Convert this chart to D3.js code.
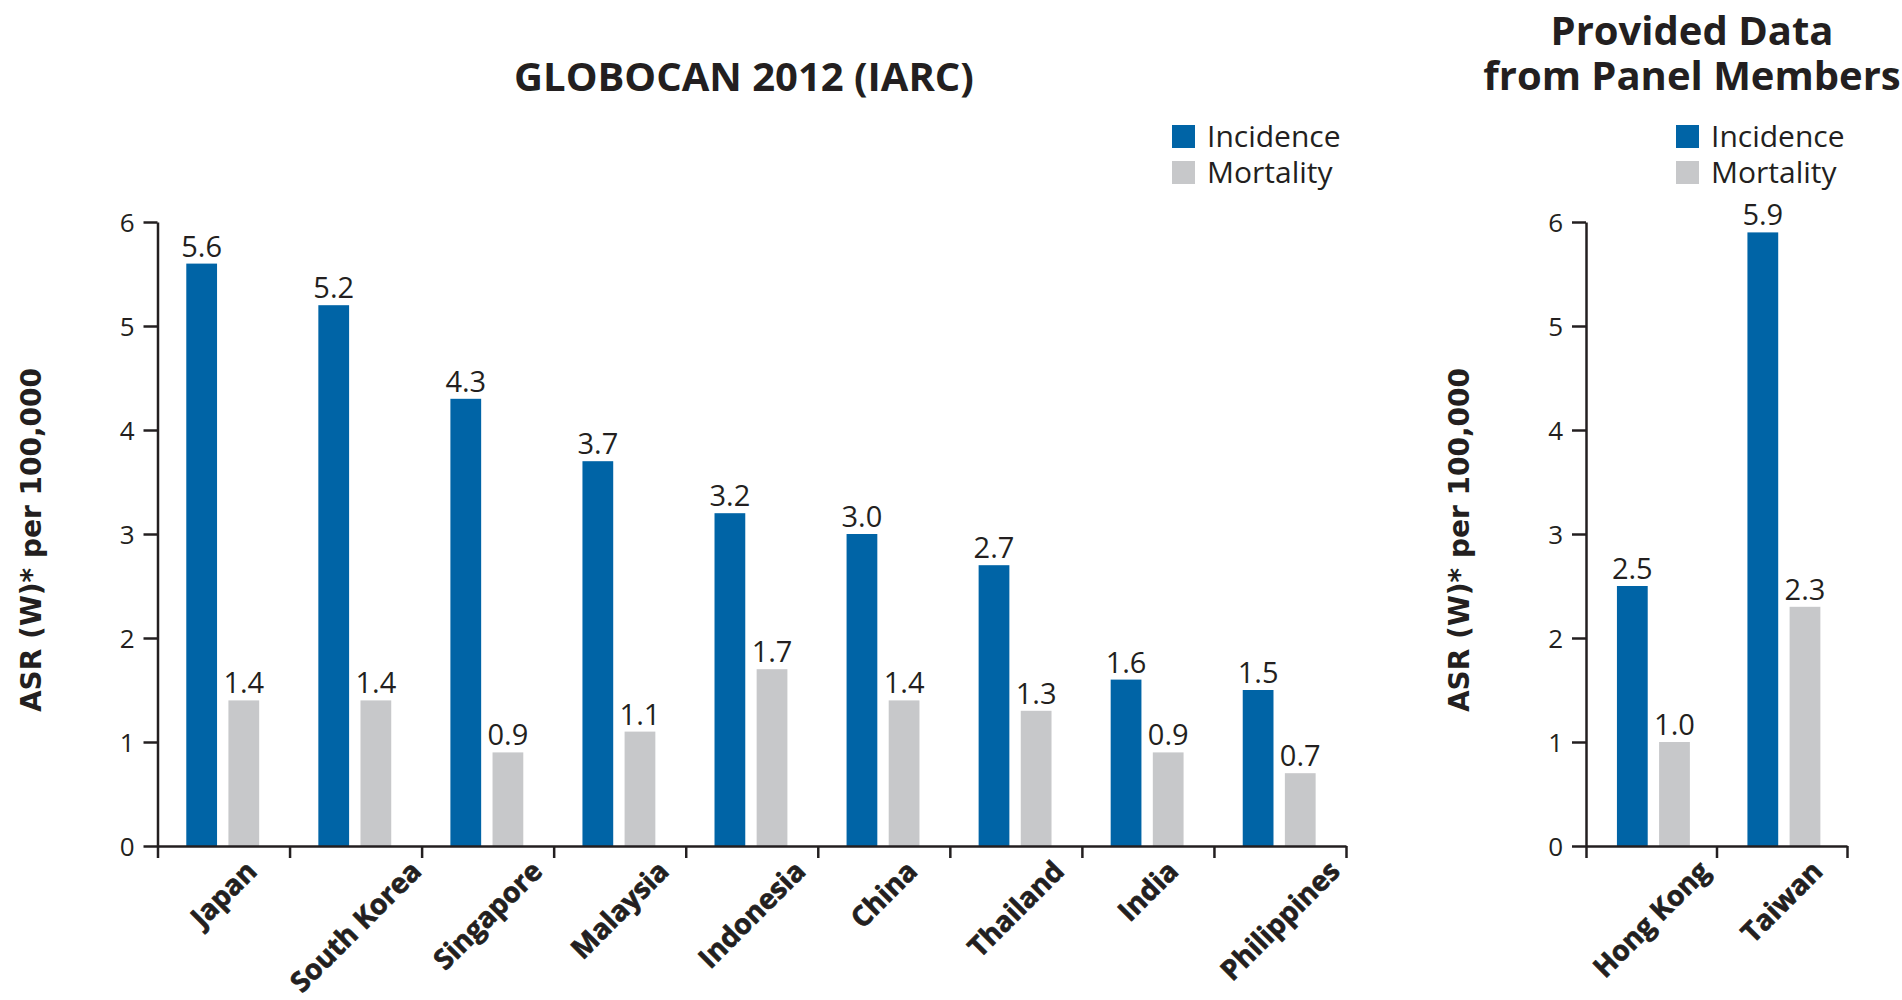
<!DOCTYPE html>
<html>
<head>
<meta charset="utf-8">
<script src="https://cdn.jsdelivr.net/npm/d3@7"></script>
<style>
  body { margin: 0; background: #fff; }
  text { fill: #231f20; }
</style>
</head>
<body>
<div id="chart"></div>
<script>
// values
const globocanCountries = ["Japan", "South Korea", "Singapore", "Malaysia", "Indonesia", "China", "Thailand", "India", "Philippines"];
const globocanIncidence = [5.6, 5.2, 4.3, 3.7, 3.2, 3.0, 2.7, 1.6, 1.5];
const globocanMortality = [1.4, 1.4, 0.9, 1.1, 1.7, 1.4, 1.3, 0.9, 0.7];

const panelCountries = ["Hong Kong", "Taiwan"];
const panelIncidence = [2.5, 5.9];
const panelMortality = [1.0, 2.3];

const seriesNames = ["Incidence", "Mortality"];
const yTicks = [0, 1, 2, 3, 4, 5, 6];

const colors = { Incidence: "#0064a6", Mortality: "#c7c8ca" };
const ink = "#231f20";

const width = 1902, height = 1000;
const y = d3.scaleLinear().domain([0, 6]).range([846, 222]);

const svg = d3.select("#chart").append("svg")
    .attr("width", width)
    .attr("height", height);

function drawPanel(opts) {
    const n = opts.countries.length;
    const rows = opts.countries.map((c, i) => ({
        country: c,
        values: [
            { key: "Incidence", value: opts.incidence[i] },
            { key: "Mortality", value: opts.mortality[i] }
        ]
    }));

    const x = d3.scaleBand().domain(opts.countries).range(opts.xRange).padding(0);
    const bw = x.bandwidth();
    // the two bars sit inside each band
    const inner = d3.scaleBand().domain(seriesNames)
        .range([opts.inner[0] * bw, opts.inner[1] * bw])
        .paddingInner(0.27);

    const g = svg.append("g");

    // bars
    const groups = g.selectAll("g.country")
        .data(rows)
        .enter().append("g")
        .attr("class", "country")
        .attr("transform", d => `translate(${x(d.country)},0)`);

    groups.selectAll("rect")
        .data(d => d.values)
        .enter().append("rect")
        .attr("x", d => inner(d.key))
        .attr("width", inner.bandwidth())
        .attr("y", d => y(d.value))
        .attr("height", d => y(0) - y(d.value))
        .attr("fill", d => colors[d.key]);

    groups.selectAll("text.val")
        .data(d => d.values)
        .enter().append("text")
        .attr("class", "val")
        .attr("x", d => inner(d.key) + inner.bandwidth() / 2)
        .attr("y", d => y(d.value) - 7)
        .attr("text-anchor", "middle")
        .style("font-family", "'Open Sans', sans-serif")
        .style("font-size", "29px")
        .text(d => d.value.toFixed(1));

    // y axis
    const x0 = opts.xRange[0];
    const yAxis = g.append("g")
        .attr("transform", `translate(${x0},0)`)
        .call(d3.axisLeft(y).tickValues(yTicks).tickFormat(d3.format("d"))
            .tickSize(14).tickSizeOuter(0).tickPadding(9));
    yAxis.selectAll("path, line").attr("stroke", ink).attr("stroke-width", 2.5);
    yAxis.selectAll("text")
        .style("font-family", "'Open Sans', sans-serif")
        .style("font-size", "26px")
        .attr("dy", "0.36em");

    // x axis: ticks on the band edges
    const xEdge = d3.scaleLinear().domain([0, n]).range(opts.xRange);
    const xAxis = g.append("g")
        .attr("transform", `translate(0,${y(0)})`)
        .call(d3.axisBottom(xEdge).tickValues(d3.range(n + 1)).tickFormat("").tickSize(12).tickSizeOuter(0));
    xAxis.selectAll("path, line").attr("stroke", ink).attr("stroke-width", 2.5);

    // category labels, rotated, centred under their band
    const fs = 28;
    g.selectAll("text.cat")
        .data(opts.countries)
        .enter().append("text")
        .attr("class", "cat")
        .attr("text-anchor", "end")
        .style("font-family", "'Open Sans', sans-serif")
        .style("font-weight", "bold")
        .style("font-size", fs + "px")
        .style("stroke", ink)
        .style("stroke-width", 0.7)
        .text(d => d)
        .each(function (d) {
            const L = this.getComputedTextLength();
            const ax = x(d) + bw / 2 + 0.707 * (L + 0.7 * fs) / 2;
            const ay = 873;
            d3.select(this)
                .attr("x", ax).attr("y", ay)
                .attr("transform", `rotate(-45,${ax},${ay})`);
        });

    // y axis title
    g.append("text")
        .attr("transform", `translate(${x0 - 117},${(y(0) + y(6)) / 2 + 6}) rotate(-90)`)
        .attr("text-anchor", "middle")
        .style("font-family", "'DejaVu Sans', sans-serif")
        .style("font-weight", "bold")
        .style("font-size", "28px")
        .text("ASR (W)* per 100,000");

    // panel title
    const title = g.append("text")
        .attr("x", opts.titleX)
        .attr("text-anchor", "middle")
        .style("font-family", "'Open Sans', sans-serif")
        .style("font-weight", "bold")
        .style("font-size", "40px");
    title.selectAll("tspan")
        .data(opts.title)
        .enter().append("tspan")
        .attr("x", opts.titleX)
        .attr("y", (d, i) => opts.titleY + i * 45)
        .text(d => d);

    // legend
    const legend = g.append("g")
        .attr("transform", `translate(${opts.legend[0]},${opts.legend[1]})`);
    const items = legend.selectAll("g")
        .data(seriesNames)
        .enter().append("g")
        .attr("transform", (d, i) => `translate(0,${i * 36})`);
    items.append("rect")
        .attr("width", 23).attr("height", 23)
        .attr("fill", d => colors[d]);
    items.append("text")
        .attr("x", 35).attr("y", 22)
        .style("font-family", "'Open Sans', sans-serif")
        .style("font-size", "30px")
        .text(d => d);
}

drawPanel({
    countries: globocanCountries,
    incidence: globocanIncidence,
    mortality: globocanMortality,
    xRange: [157.5, 1346],
    inner: [0.218, 0.770],
    title: ["GLOBOCAN 2012 (IARC)"],
    titleX: 744, titleY: 91,
    legend: [1172, 125]
});

drawPanel({
    countries: panelCountries,
    incidence: panelIncidence,
    mortality: panelMortality,
    xRange: [1586, 1847],
    inner: [0.237, 0.796],
    title: ["Provided Data", "from Panel Members"],
    titleX: 1692, titleY: 45,
    legend: [1676, 125]
});
</script>
</body>
</html>
